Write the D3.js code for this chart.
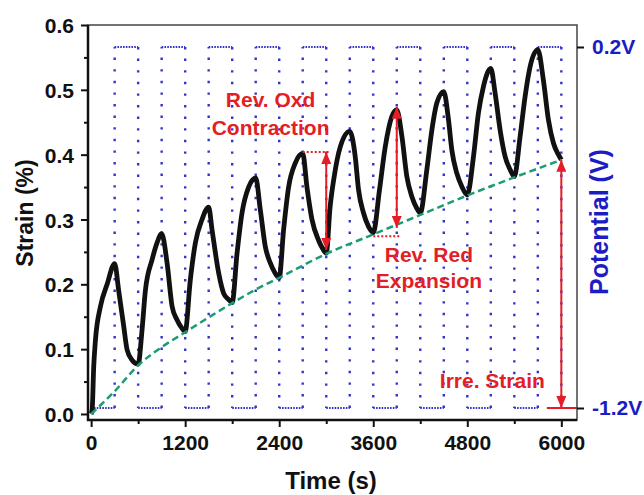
<!DOCTYPE html>
<html>
<head>
<meta charset="utf-8">
<script src="https://cdn.jsdelivr.net/npm/d3@7"></script>
<style>
  body { margin: 0; background: #fff; }
  svg text { font-family: "Liberation Sans", Arial, sans-serif; font-weight: bold; }
</style>
</head>
<body>
<div id="chart"></div>
<script>
// strain trace (s, %)
var strainTime = [0, 13, 33, 55, 119, 204, 300, 352, 416, 459, 523, 600, 650, 692, 778, 841, 900,
  969, 1033, 1097, 1160, 1200, 1266, 1330, 1415, 1500, 1543, 1628, 1691, 1750, 1800, 1862, 1925, 2010, 2100,
  2159, 2223, 2286, 2345, 2400, 2456, 2520, 2605, 2700, 2754, 2818, 2902, 2950, 3000, 3050, 3100, 3179, 3300,
  3370, 3412, 3476, 3540, 3600, 3680, 3753, 3838, 3900, 3966, 4029, 4093, 4157, 4200, 4284, 4348, 4412, 4500,
  4560, 4603, 4667, 4730, 4800, 4879, 4942, 5006, 5100, 5155, 5219, 5283, 5346, 5400, 5474, 5538, 5602, 5700,
  5771, 5835, 5899, 5963, 6000];
var strainValue = [0, 0.006, 0.073, 0.114, 0.166, 0.2, 0.232, 0.19, 0.135, 0.099, 0.083, 0.077, 0.13, 0.19, 0.238, 0.264, 0.278,
  0.233, 0.166, 0.145, 0.132, 0.127, 0.207, 0.264, 0.3, 0.319, 0.284, 0.217, 0.186, 0.177, 0.172, 0.248, 0.31, 0.35, 0.364,
  0.315, 0.258, 0.233, 0.218, 0.21, 0.284, 0.35, 0.387, 0.402, 0.35, 0.3, 0.268, 0.256, 0.248, 0.32, 0.365, 0.412, 0.436,
  0.397, 0.346, 0.31, 0.289, 0.28, 0.346, 0.412, 0.459, 0.469, 0.428, 0.366, 0.335, 0.317, 0.31, 0.377, 0.438, 0.48, 0.497,
  0.454, 0.407, 0.371, 0.351, 0.338, 0.397, 0.464, 0.505, 0.533, 0.495, 0.438, 0.397, 0.377, 0.366, 0.428, 0.49, 0.536, 0.562,
  0.515, 0.454, 0.418, 0.4, 0.392];

// irreversible strain baseline (green dashed)
var baseTime = [0, 300, 600, 900, 1200, 1500, 1800, 2100, 2400, 3000, 3600, 4200, 4800, 5400, 6000];
var baseValue = [0, 0.035, 0.075, 0.103, 0.126, 0.149, 0.171, 0.192, 0.21, 0.247, 0.277, 0.307, 0.337, 0.365, 0.392];

// applied potential, level held from each time onwards (V)
var potTime = [0, 300, 600, 900, 1200, 1500, 1800, 2100, 2400, 2700, 3000, 3300, 3600, 3900, 4200, 4500,
  4800, 5100, 5400, 5700, 6000];
var potLevel = [-1.2, 0.2, -1.2, 0.2, -1.2, 0.2, -1.2, 0.2, -1.2, 0.2, -1.2, 0.2, -1.2, 0.2, -1.2, 0.2,
  -1.2, 0.2, -1.2, 0.2, -1.2];

var xTicks = [0, 1200, 2400, 3600, 4800, 6000];
var xMinor = [600, 1800, 3000, 4200, 5400];
var yTicks = [0, 0.1, 0.2, 0.3, 0.4, 0.5, 0.6];
var yMinor = [0.05, 0.15, 0.25, 0.35, 0.45, 0.55];
var potTicks = [-1.2, 0.2];

var W = 644, H = 495;
var margin = { top: 25, right: 67, bottom: 75, left: 88 };
var width = W - margin.left - margin.right,
  height = H - margin.top - margin.bottom;

var RED = "#e41d26", BLUE = "#1c1cc4", DOT = "#3434c8";

var x = d3.scaleLinear().domain([-40, 6200]).range([0, width]);
var y = d3.scaleLinear().domain([-0.0093, 0.6]).range([height, 0]);
var y2 = d3.scaleLinear().domain([-1.2, 0.2]).range([height - 12, 22]);

var svg = d3.select("#chart").append("svg")
  .attr("width", W).attr("height", H)
  .append("g")
  .attr("transform", "translate(" + margin.left + "," + margin.top + ")");

var defs = svg.append("defs");
defs.append("marker")
  .attr("id", "head")
  .attr("viewBox", "0 0 12 10")
  .attr("refX", 12).attr("refY", 5)
  .attr("markerWidth", 12).attr("markerHeight", 10)
  .attr("markerUnits", "userSpaceOnUse")
  .attr("orient", "auto-start-reverse")
  .append("path").attr("d", "M0,0 L12,5 L0,10 Z").attr("fill", RED);

// potential square wave
var potSteps = potTime.slice(0, -1).map(function(t, i) {
  return { t0: t, t1: potTime[i + 1], v: potLevel[i] };
});
svg.selectAll(".pot-h").data(potSteps).enter().append("line")
  .attr("x1", function(d) { return x(d.t0); })
  .attr("x2", function(d) { return x(d.t1); })
  .attr("y1", function(d) { return y2(d.v); })
  .attr("y2", function(d) { return y2(d.v); })
  .style("stroke", DOT).style("stroke-width", 2)
  .style("stroke-dasharray", "1.6,1.2");
svg.selectAll(".pot-v").data(potTime.slice(1)).enter().append("line")
  .attr("x1", function(d) { return x(d); })
  .attr("x2", function(d) { return x(d); })
  .attr("y1", function(d, i) { return y2(potLevel[i]); })
  .attr("y2", function(d, i) { return y2(potLevel[i + 1]); })
  .style("stroke", DOT).style("stroke-width", 2.4)
  .style("stroke-dasharray", "2.4,9.2");

// strain
var strain = strainTime.map(function(t, i) { return [t, strainValue[i]]; });
svg.append("path")
  .datum(strain)
  .attr("d", d3.line()
    .x(function(d) { return x(d[0]); })
    .y(function(d) { return y(d[1]); })
    .curve(d3.curveMonotoneX))
  .style("fill", "none").style("stroke", "#111")
  .style("stroke-width", 4.8).style("stroke-linejoin", "round");

// baseline
var base = baseTime.map(function(t, i) { return [t, baseValue[i]]; });
svg.append("path")
  .datum(base)
  .attr("d", d3.line()
    .x(function(d) { return x(d[0]); })
    .y(function(d) { return y(d[1]); })
    .curve(d3.curveMonotoneX))
  .style("fill", "none").style("stroke", "#1b9c72")
  .style("stroke-width", 2.5).style("stroke-dasharray", "7,4");

// annotations
var dotted = [
  { t0: 2700, t1: 3030, s: 0.404 },
  { t0: 3600, t1: 3950, s: 0.274 }
];
svg.selectAll(".ref").data(dotted).enter().append("line")
  .attr("x1", function(d) { return x(d.t0); })
  .attr("x2", function(d) { return x(d.t1); })
  .attr("y1", function(d) { return y(d.s); })
  .attr("y2", function(d) { return y(d.s); })
  .style("stroke", RED).style("stroke-width", 2)
  .style("stroke-dasharray", "2,2");

var arrows = [
  { t: 3000, y1: y(0.404), y2: y(0.253) },
  { t: 3900, y1: y(0.474), y2: y(0.287) },
  { t: 6000, y1: y(0.392), y2: y2(-1.2) }
];
svg.selectAll(".arrow").data(arrows).enter().append("line")
  .attr("x1", function(d) { return x(d.t); })
  .attr("x2", function(d) { return x(d.t); })
  .attr("y1", function(d) { return d.y1; })
  .attr("y2", function(d) { return d.y2; })
  .style("stroke", RED).style("stroke-width", 2)
  .attr("marker-start", "url(#head)")
  .attr("marker-end", "url(#head)");

svg.append("line")
  .attr("x1", x(5815)).attr("x2", x(6200))
  .attr("y1", y2(-1.2)).attr("y2", y2(-1.2))
  .style("stroke", RED).style("stroke-width", 2);

var labels = [
  { text: "Rev. Oxd", t: 2290, s: 0.474 },
  { text: "Contraction", t: 2290, s: 0.430 },
  { text: "Rev. Red", t: 4310, s: 0.234 },
  { text: "Expansion", t: 4310, s: 0.194 },
  { text: "Irre. Strain", t: 5120, s: 0.04 }
];
svg.selectAll(".note").data(labels).enter().append("text")
  .attr("x", function(d) { return x(d.t); })
  .attr("y", function(d) { return y(d.s); })
  .attr("text-anchor", "middle")
  .style("font-size", "21px").style("fill", RED)
  .text(function(d) { return d.text; });

// frame
svg.append("rect")
  .attr("width", width).attr("height", height)
  .style("fill", "none").style("stroke", "#444").style("stroke-width", 1.5);

// axes
function styleAxis(g, size) {
  g.select(".domain").remove();
  g.selectAll("line").style("stroke", "#111").style("stroke-width", 2);
  g.selectAll("text").style("font-size", size).style("fill", "#111");
}

svg.append("g")
  .attr("transform", "translate(0," + height + ")")
  .call(d3.axisBottom(x).tickValues(xTicks).tickSize(7).tickPadding(8).tickFormat(d3.format("d")))
  .call(styleAxis, "21px");
svg.append("g")
  .attr("transform", "translate(0," + height + ")")
  .call(d3.axisBottom(x).tickValues(xMinor).tickSize(4).tickFormat(""))
  .call(styleAxis, "21px");

svg.append("g")
  .call(d3.axisLeft(y).tickValues(yTicks).tickSize(7).tickPadding(7).tickFormat(d3.format(".1f")))
  .call(styleAxis, "21px")
  .selectAll("text").attr("dy", "0.36em");
svg.append("g")
  .call(d3.axisLeft(y).tickValues(yMinor).tickSize(4).tickFormat(""))
  .call(styleAxis, "21px");

svg.append("g")
  .attr("transform", "translate(" + width + ",0)")
  .call(d3.axisRight(y2).tickValues(potTicks).tickSize(7).tickPadding(8)
    .tickFormat(function(d) { return d + "V"; }))
  .call(styleAxis, "21px")
  .selectAll("text").style("fill", BLUE);

svg.append("line")
  .attr("x1", 0).attr("x2", 0).attr("y1", 0).attr("y2", height + 1)
  .style("stroke", "#111").style("stroke-width", 2.5);
svg.append("line")
  .attr("x1", -1).attr("x2", width).attr("y1", height).attr("y2", height)
  .style("stroke", "#111").style("stroke-width", 2.5);

// titles
svg.append("text")
  .attr("x", 243).attr("y", height + 69)
  .attr("text-anchor", "middle")
  .style("font-size", "24px").style("fill", "#111")
  .text("Time (s)");

svg.append("text")
  .attr("transform", "translate(-55," + 188 + ") rotate(-90)")
  .attr("text-anchor", "middle")
  .style("font-size", "23px").style("fill", "#111")
  .text("Strain (%)");

svg.append("text")
  .attr("transform", "translate(" + (width + 31) + "," + 197 + ") rotate(-90)")
  .attr("text-anchor", "middle")
  .style("font-size", "25px").style("fill", BLUE)
  .text("Potential (V)");
</script>
</body>
</html>
